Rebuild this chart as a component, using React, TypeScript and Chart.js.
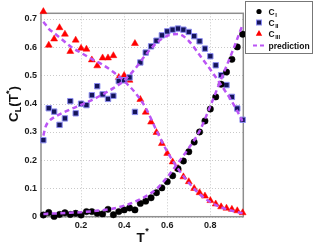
import React, { useEffect, useRef } from "react";
import { Chart, registerables } from "chart.js";

Chart.register(...registerables);

// Reduced temperature grid of the measured points
const temps = [
  0.025, 0.05, 0.075, 0.1, 0.125, 0.15, 0.175, 0.2, 0.225, 0.25,
  0.275, 0.3, 0.325, 0.35, 0.375, 0.4, 0.425, 0.45, 0.475, 0.5,
  0.525, 0.55, 0.575, 0.6, 0.625, 0.65, 0.675, 0.7, 0.725, 0.75,
  0.775, 0.8, 0.825, 0.85, 0.875, 0.9, 0.925, 0.95,
];

const cI = [
  0.006, 0.015, 0.001, 0.008, 0.014, 0.008, 0.012, 0.006, 0.018, 0.018,
  0.012, 0.01, 0.026, 0.007, 0.018, 0.024, 0.031, 0.024, 0.047, 0.055,
  0.067, 0.085, 0.102, 0.124, 0.145, 0.17, 0.197, 0.23, 0.264, 0.3,
  0.339, 0.381, 0.424, 0.469, 0.512, 0.557, 0.601, 0.646,
];

const cII = [
  0.271, 0.384, 0.372, 0.325, 0.348, 0.409, 0.366, 0.4, 0.395, 0.43,
  0.462, 0.433, 0.417, 0.428, 0.48, 0.483, 0.493, 0.371, 0.546, 0.581,
  0.603, 0.623, 0.642, 0.656, 0.662, 0.666, 0.662, 0.654, 0.639, 0.621,
  0.595, 0.568, 0.536, 0.501, 0.466, 0.424, 0.383, 0.343,
];

const cIII = [
  0.726, 0.607, 0.629, 0.669, 0.646, 0.585, 0.625, 0.596, 0.593, 0.555,
  0.534, 0.562, 0.562, 0.57, 0.493, 0.5, 0.483, 0.613, 0.415, 0.37,
  0.335, 0.298, 0.259, 0.224, 0.194, 0.171, 0.141, 0.124, 0.1, 0.085,
  0.073, 0.057, 0.045, 0.035, 0.03, 0.026, 0.021, 0.014,
];

// Prediction curves
const predTemps = [
  0.025, 0.035, 0.05, 0.075, 0.1, 0.15, 0.2, 0.25, 0.3, 0.35, 0.4,
  0.45, 0.5, 0.55, 0.6, 0.65, 0.7, 0.75, 0.8, 0.85, 0.9, 0.95,
];
const predI = [
  0.01, 0.01, 0.011, 0.011, 0.012, 0.014, 0.016, 0.019, 0.023, 0.029, 0.039,
  0.053, 0.072, 0.098, 0.14, 0.19, 0.243, 0.303, 0.392, 0.487, 0.58, 0.68,
];
const predII = [
  0.287, 0.318, 0.337, 0.352, 0.362, 0.38, 0.396, 0.413, 0.433, 0.455, 0.482,
  0.523, 0.573, 0.615, 0.64, 0.647, 0.622, 0.572, 0.521, 0.466, 0.408, 0.338,
];
const predIII = [
  0.69, 0.68, 0.665, 0.65, 0.635, 0.603, 0.58, 0.558, 0.538, 0.512, 0.48,
  0.44, 0.385, 0.305, 0.23, 0.17, 0.12, 0.08, 0.052, 0.033, 0.021, 0.012,
];

const xTicks = [0.2, 0.4, 0.6, 0.8];
const yTicks = [0, 0.1, 0.2, 0.3, 0.4, 0.5, 0.6, 0.7];
const legendMain = ["C", "C", "C", "prediction"];
const legendSub = ["I", "II", "III", ""];

const PURPLE = "#bb55f5";
const SQ_FILL = "#14145a";
const SQ_EDGE = "#8c8cf0";
const FONT = "'Liberation Sans', Arial, sans-serif";

const framePlugin = {
  id: "frame",
  beforeDatasetsDraw(chart: any) {
    const { ctx, chartArea: a, scales } = chart;
    const xs = scales.x;
    const ys = scales.y;
    ctx.save();
    ctx.strokeStyle = "#c9c9c9";
    ctx.lineWidth = 1;
    ctx.setLineDash([1, 2]);
    xTicks.forEach((t) => {
      const px = Math.round(xs.getPixelForValue(t)) + 0.5;
      ctx.beginPath();
      ctx.moveTo(px, a.top);
      ctx.lineTo(px, a.bottom);
      ctx.stroke();
    });
    yTicks.forEach((t) => {
      const py = Math.round(ys.getPixelForValue(t)) + 0.5;
      ctx.beginPath();
      ctx.moveTo(a.left, py);
      ctx.lineTo(a.right, py);
      ctx.stroke();
    });
    ctx.setLineDash([]);
    ctx.strokeStyle = "#8e8e8e";
    ctx.lineWidth = 1.5;
    ctx.strokeRect(a.left, a.top, a.right - a.left, a.bottom - a.top);
    ctx.restore();
  },
};

const annotPlugin = {
  id: "annot",
  afterDraw(chart: any) {
    const { ctx } = chart;
    ctx.save();
    ctx.fillStyle = "#111";
    ctx.textBaseline = "alphabetic";
    ctx.textAlign = "left";

    // Y axis title: C_L(T*)
    const big = `bold 13.5px ${FONT}`;
    const small = `bold 9px ${FONT}`;
    const parts: [string, string, number][] = [
      ["C", big, 0],
      ["L", small, 3],
      ["(T", big, 0],
      ["*", small, -6],
      [")", big, 0],
    ];
    let total = 0;
    parts.forEach(([s, f]) => {
      ctx.font = f;
      total += ctx.measureText(s).width;
    });
    ctx.translate(17.5, 104 + total / 2);
    ctx.rotate(-Math.PI / 2);
    let cx = 0;
    parts.forEach(([s, f, dy]) => {
      ctx.font = f;
      ctx.fillText(s, cx, dy);
      cx += ctx.measureText(s).width;
    });
    ctx.setTransform(1, 0, 0, 1, 0, 0);

    // X axis title: T*
    ctx.font = big;
    const tw = ctx.measureText("T").width;
    ctx.fillText("T", 136.5, 242);
    ctx.font = small;
    ctx.fillText("*", 136.5 + tw + 0.5, 234);

    // Legend
    const bx = 245.5, by = 1.5, bw = 67, bh = 52;
    ctx.fillStyle = "#fff";
    ctx.fillRect(bx, by, bw, bh);
    ctx.strokeStyle = "#777";
    ctx.lineWidth = 1;
    ctx.strokeRect(bx, by, bw, bh);
    const rows = [11.5, 22.5, 33.5, 45.5];
    const mx = 259;
    rows.forEach((ry, i) => {
      if (i === 0) {
        ctx.fillStyle = "#000";
        ctx.beginPath();
        ctx.arc(mx, ry, 2.6, 0, Math.PI * 2);
        ctx.fill();
      } else if (i === 1) {
        ctx.fillStyle = SQ_FILL;
        ctx.strokeStyle = SQ_EDGE;
        ctx.lineWidth = 1;
        ctx.fillRect(mx - 2.5, ry - 2.5, 5, 5);
        ctx.strokeRect(mx - 2.5, ry - 2.5, 5, 5);
      } else if (i === 2) {
        ctx.fillStyle = "#ff0000";
        ctx.beginPath();
        ctx.moveTo(mx, ry - 3.5);
        ctx.lineTo(mx + 3.2, ry + 2.3);
        ctx.lineTo(mx - 3.2, ry + 2.3);
        ctx.closePath();
        ctx.fill();
      } else {
        ctx.strokeStyle = PURPLE;
        ctx.lineWidth = 2.2;
        ctx.setLineDash([4, 3]);
        ctx.beginPath();
        ctx.moveTo(253, ry);
        ctx.lineTo(267, ry);
        ctx.stroke();
        ctx.setLineDash([]);
      }
      ctx.fillStyle = "#111";
      ctx.font = `bold 8.5px ${FONT}`;
      const w = ctx.measureText(legendMain[i]).width;
      ctx.fillText(legendMain[i], 268.5, ry + 3);
      if (legendSub[i]) {
        ctx.font = `bold 6px ${FONT}`;
        ctx.fillText(legendSub[i], 268.5 + w + 0.5, ry + 5.5);
      }
    });
    ctx.restore();
  },
};

export default function App() {
  const ref = useRef<HTMLCanvasElement | null>(null);

  useEffect(() => {
    if (!ref.current) return;
    const pts = (xs: number[], ys: number[]) => xs.map((x, i) => ({ x, y: ys[i] }));
    const predStyle = {
      type: "line" as const,
      showLine: true,
      borderColor: PURPLE,
      borderWidth: 2.5,
      borderDash: [5, 3.5],
      pointRadius: 0,
      fill: false,
      order: 0,
      cubicInterpolationMode: "monotone" as const,
    };
    const chart = new Chart(ref.current, {
      type: "scatter",
      data: {
        datasets: [
          {
            label: "C_I",
            data: pts(temps, cI),
            pointStyle: "circle",
            pointRadius: 3.2,
            backgroundColor: "#000",
            borderColor: "#000",
            borderWidth: 0.5,
            clip: false,
            order: 1,
          } as any,
          {
            label: "C_II",
            data: pts(temps, cII),
            pointStyle: "rect",
            pointRadius: 3.8,
            backgroundColor: SQ_FILL,
            borderColor: SQ_EDGE,
            borderWidth: 1,
            clip: false,
            order: 2,
          },
          {
            label: "C_III",
            data: pts(temps, cIII),
            pointStyle: "triangle",
            pointRadius: 4,
            backgroundColor: "#ff0000",
            borderColor: "#ff0000",
            borderWidth: 0.5,
            clip: false,
            order: 3,
          },
          { ...predStyle, label: "prediction I", data: pts(predTemps, predI) },
          { ...predStyle, label: "prediction II", data: pts(predTemps, predII) },
          { ...predStyle, label: "prediction III", data: pts(predTemps, predIII) },
        ] as any,
      },
      options: {
        responsive: false,
        animation: false,
        events: [],
        layout: { padding: { left: 0, top: 13.3, right: 72.7, bottom: 0 } },
        plugins: {
          legend: { display: false },
          tooltip: { enabled: false },
          title: { display: false },
        },
        scales: {
          x: {
            type: "linear",
            min: 0.014,
            max: 0.953,
            afterBuildTicks: (s: any) => {
              s.ticks = xTicks.map((v) => ({ value: v }));
            },
            afterFit: (s: any) => {
              s.height = 29.3;
            },
            grid: { display: false, drawTicks: false, tickLength: 0 },
            border: { display: false },
            ticks: {
              padding: 3,
              color: "#1a1a1a",
              font: { family: FONT, size: 9, weight: "bold" },
              callback: (v: any) => Number(v).toFixed(1),
            },
          },
          y: {
            type: "linear",
            min: 0,
            max: 0.72,
            afterBuildTicks: (s: any) => {
              s.ticks = yTicks.map((v) => ({ value: v }));
            },
            afterFit: (s: any) => {
              s.width = 41;
            },
            grid: { display: false, drawTicks: false, tickLength: 0 },
            border: { display: false },
            ticks: {
              padding: 4,
              color: "#1a1a1a",
              font: { family: FONT, size: 9, weight: "bold" },
              callback: (v: any) => (Number(v) === 0 ? "0" : Number(v).toFixed(1)),
            },
          },
        },
      } as any,
      plugins: [framePlugin, annotPlugin],
    });
    return () => chart.destroy();
  }, []);

  return (
    <div style={{ position: "absolute", left: 0, top: 0, width: 316, height: 246, background: "#fff" }}>
      <canvas ref={ref} width={316} height={246} style={{ display: "block" }} />
    </div>
  );
}
